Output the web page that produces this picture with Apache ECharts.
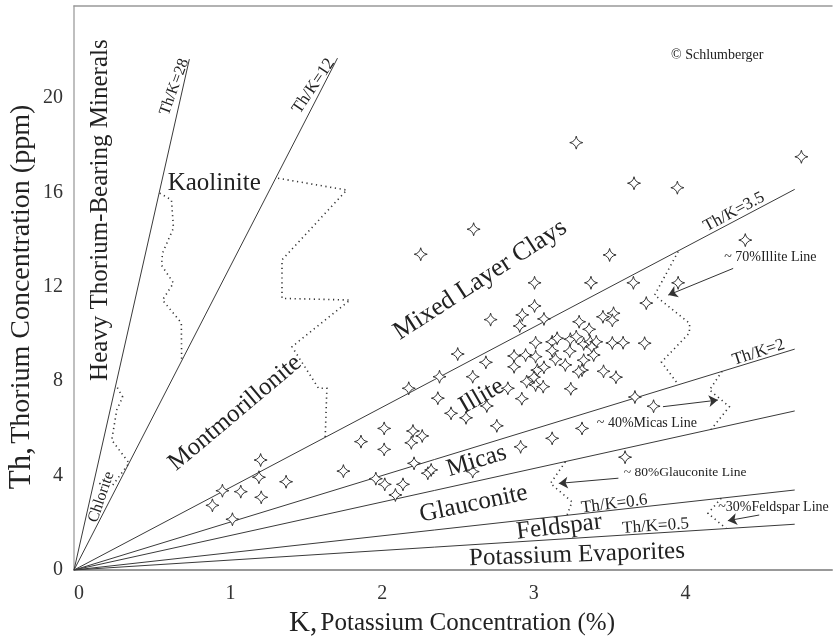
<!DOCTYPE html>
<html><head><meta charset="utf-8">
<script src="https://cdn.jsdelivr.net/npm/echarts@6/dist/echarts.min.js"></script>
<style>html,body{margin:0;padding:0;background:#fff}#c{width:835px;height:641px}</style>
</head><body><div id="c"></div>
<script>
// ---------------- DATA ----------------
const xTickLabels = [0, 1, 2, 3, 4];
const yTickLabels = [0, 4, 8, 12, 16, 20];

// straight Th/K ratio lines from the origin: end point of each line
const ratioLineNames = ['Th/K=28', 'Th/K=12', 'Th/K=3.5', 'Th/K=2', 'Micas/Glauconite', 'Th/K=0.6', 'Th/K=0.5'];
const ratioLineEndK  = [0.761, 1.738, 4.754, 4.754, 4.754, 4.754, 4.754];
const ratioLineEndTh = [21.65, 21.69, 16.13, 9.36, 6.74, 3.39, 1.94];

// sample points (K %, Th ppm)
const sampleK = [0.913,0.979,1.045,1.100,1.220,1.231,1.235,1.399,1.777,1.893,1.991,2.046,2.046,2.050,2.120,2.170,2.236,2.225,2.243,2.297,2.334,2.356,2.208,2.400,2.411,2.487,2.586,2.531,2.630,2.717,2.723,2.630,2.789,2.946,2.287,2.636,2.748,2.957,2.940,3.038,3.038,3.100,2.862,2.954,2.986,3.045,3.095,2.903,2.979,3.045,3.045,2.903,3.056,3.034,3.100,3.154,3.187,3.154,3.176,3.241,3.274,3.313,3.270,3.362,3.405,3.445,3.416,3.428,3.362,3.351,3.329,3.277,3.332,3.398,3.489,3.559,3.551,3.493,3.575,3.551,3.622,3.764,3.775,3.700,3.823,3.351,3.154,3.635,3.313,3.694,3.980,4.798,3.533,3.410,3.690,3.985,4.428];
const sampleTh = [2.74,3.36,2.15,3.32,3.93,4.66,3.08,3.74,4.19,5.44,3.87,6.00,5.11,3.63,3.18,3.63,5.89,5.39,4.52,5.68,4.10,4.24,7.70,7.28,8.19,6.64,6.45,9.15,8.19,8.80,6.95,4.17,6.11,5.22,13.38,14.44,10.61,10.81,10.34,11.19,12.17,10.64,7.70,7.26,7.98,7.84,7.77,9.07,9.11,9.04,9.63,8.61,8.47,8.17,8.59,9.67,9.82,9.29,8.93,8.69,9.78,9.89,9.27,9.58,9.67,9.67,9.45,9.11,8.89,8.47,8.40,7.68,10.52,10.20,10.73,10.88,10.58,8.42,8.17,9.62,9.63,9.61,11.31,7.33,6.94,6.00,5.58,4.78,18.11,16.39,16.20,17.51,13.35,12.17,12.17,12.17,13.98];

// dotted boundary lines (K, Th vertices)
const chloriteBoundary   = [[0.256,3.60],[0.363,4.53],[0.249,5.51],[0.282,6.78],[0.321,7.33],[0.276,7.84]];
const kaoliniteBoundary  = [[0.565,15.97],[0.643,15.68],[0.656,14.49],[0.584,13.43],[0.577,12.92],[0.656,12.16],[0.584,11.44],[0.708,10.47],[0.710,8.85]];
const montBoundary       = [[1.346,16.60],[1.799,16.10],[1.372,13.14],[1.372,11.51],[1.821,11.44],[1.438,9.46],[1.613,7.70],[1.668,7.70],[1.657,5.61]];
const illiteLine70       = [[3.985,13.49],[3.830,11.65],[4.061,10.45],[4.059,10.04],[3.875,8.81],[3.987,7.85]];
const micasLine40        = [[4.275,8.42],[4.192,7.63],[4.323,6.92],[4.203,5.96]];
const glauconiteLine80   = [[3.241,4.58],[3.143,3.67],[3.285,2.89],[3.252,2.32]];
const feldsparLine30     = [[4.269,3.04],[4.182,2.40],[4.302,1.76]];

// arrows (from, to)
const arrowIllite     = [[4.348,12.78],[3.920,11.65]];
const arrowMicas      = [[3.885,6.92],[4.247,7.20]];
const arrowGlauconite = [[3.591,3.89],[3.198,3.67]];
const arrowFeldspar   = [[4.520,2.33],[4.313,2.09]];

// ---------------- RENDER ----------------
const SERIF = "'Liberation Serif','DejaVu Serif',serif";
const chart = echarts.init(document.getElementById('c'), null, {renderer: 'canvas'});

const starPath = 'path://M10,0 Q11.5,8.5 20,10 Q11.5,11.5 10,20 Q8.5,11.5 0,10 Q8.5,8.5 10,0 Z';

const boundaries = [chloriteBoundary, kaoliniteBoundary, montBoundary, illiteLine70, micasLine40, glauconiteLine80, feldsparLine30];
const arrows = [arrowIllite, arrowMicas, arrowGlauconite, arrowFeldspar];

const hiddenLabel = {show: false};
chart.setOption({
  animation: false,
  backgroundColor: '#fff',
  grid: {left: 74, right: -1.5, top: 6, bottom: 71, show: false},
  xAxis: [{
    type: 'value', min: 0, max: 5, interval: 1, position: 'bottom',
    axisLine: {show: true, onZero: false, lineStyle: {color: '#999', width: 2}},
    axisTick: {show: false}, splitLine: {show: false},
    axisLabel: {
      fontFamily: SERIF, fontSize: 20, color: '#333', margin: 14, padding: [0, 0, 0, 10],
      formatter: v => xTickLabels.includes(v) ? String(v) : ''
    }
  }, {
    type: 'value', min: 0, max: 5, interval: 1, position: 'top',
    axisLine: {show: true, onZero: false, lineStyle: {color: '#999', width: 1.5}},
    axisTick: {show: false}, splitLine: {show: false}, axisLabel: hiddenLabel
  }],
  yAxis: {
    type: 'value', min: 0, max: 23.9, interval: 4,
    axisLine: {show: true, onZero: false, lineStyle: {color: '#aaa', width: 1.5}},
    axisTick: {show: false}, splitLine: {show: false},
    axisLabel: {
      fontFamily: SERIF, fontSize: 20, color: '#333', margin: 11, padding: [0, 0, 9, 0],
      formatter: v => yTickLabels.includes(v) ? String(v) : ''
    }
  },
  series: [
    {
      type: 'lines', coordinateSystem: 'cartesian2d', silent: true, z: 2,
      data: ratioLineEndK.map((k, i) => ({name: ratioLineNames[i], coords: [[0, 0], [k, ratioLineEndTh[i]]]})),
      lineStyle: {color: '#3a3a3a', width: 1, opacity: 1}, symbol: 'none'
    },
    {
      type: 'lines', coordinateSystem: 'cartesian2d', polyline: true, silent: true, z: 2,
      data: boundaries.map(b => ({coords: b})),
      lineStyle: {color: '#333', width: 1.6, type: [1.2, 3.6], opacity: 1}, symbol: 'none'
    },
    {
      type: 'lines', coordinateSystem: 'cartesian2d', silent: true, z: 3,
      data: arrows.map(a => ({coords: a})),
      lineStyle: {color: '#333', width: 1, opacity: 1},
      symbol: ['none', 'arrow'], symbolSize: [0, 9]
    },
    {
      type: 'scatter', z: 4,
      data: sampleK.map((k, i) => [k, sampleTh[i]]),
      symbol: starPath, symbolSize: 13,
      itemStyle: {color: '#fff', borderColor: '#333', borderWidth: 1, opacity: 1}
    }
  ]
});

// text annotations anchored in data coordinates
const notes = [
  {k: 0.177, th: 15.25, t: 'Heavy Thorium-Bearing Minerals', r: 90, s: 25},
  {k: 0.925, th: 16.40, t: 'Kaolinite', r: 0, s: 25},
  {k: 1.062, th: 6.65, t: 'Montmorillonite', r: 40, s: 25},
  {k: 2.680, th: 12.29, t: 'Mixed Layer Clays', r: 33, s: 26},
  {k: 2.689, th: 7.37, t: 'Illite', r: 30, s: 25},
  {k: 2.656, th: 4.62, t: 'Micas', r: 17, s: 25},
  {k: 2.636, th: 2.80, t: 'Glauconite', r: 12, s: 25},
  {k: 3.200, th: 1.82, t: 'Feldspar', r: 7, s: 25},
  {k: 3.318, th: 0.64, t: 'Potassium Evaporites', r: 2, s: 25},
  {k: 0.180, th: 3.09, t: 'Chlorite', r: 71, s: 16},
  {k: 0.662, th: 20.47, t: 'Th/K=28', r: 70, s: 16},
  {k: 1.580, th: 20.51, t: 'Th/K=12', r: 56, s: 17},
  {k: 4.354, th: 15.17, t: 'Th/K=3.5', r: 28, s: 17},
  {k: 4.515, th: 9.22, t: 'Th/K=2', r: 18, s: 17},
  {k: 3.564, th: 2.80, t: 'Th/K=0.6', r: 7, s: 17},
  {k: 3.836, th: 1.86, t: 'Th/K=0.5', r: 4, s: 17},
  {k: 4.243, th: 21.82, t: '\u00A9 Schlumberger', r: 0, s: 14},
  {k: 4.289, th: 13.26, t: '~ 70%Illite Line', r: 0, s: 14, a: 'left'},
  {k: 3.449, th: 6.23, t: '~ 40%Micas Line', r: 0, s: 14, a: 'left'},
  {k: 3.626, th: 4.15, t: '~ 80%Glauconite Line', r: 0, s: 13.5, a: 'left'},
  {k: 4.249, th: 2.67, t: '~30%Feldspar Line', r: 0, s: 14, a: 'left'}
];

const graphics = notes.map(n => {
  const p = chart.convertToPixel({gridIndex: 0}, [n.k, n.th]);
  return {
    type: 'text', x: p[0], y: p[1], rotation: n.r * Math.PI / 180, silent: true, z: 10,
    style: {text: n.t, fontFamily: SERIF, fontSize: n.s, fill: '#222',
            align: n.a || 'center', verticalAlign: 'middle'}
  };
});

graphics.push({
  type: 'text', x: 452, y: 623, silent: true, z: 10,
  style: {
    text: '{a|K,} {b|Potassium Concentration (%)}', align: 'center', verticalAlign: 'middle',
    rich: {a: {fontFamily: SERIF, fontSize: 29, fill: '#222', lineHeight: 32},
           b: {fontFamily: SERIF, fontSize: 25, fill: '#222', lineHeight: 32}}
  }
});
graphics.push({
  type: 'text', x: 22, y: 297, rotation: Math.PI / 2, silent: true, z: 10,
  style: {
    text: '{a|Th,} {b|Thorium Concentration (ppm)}', align: 'center', verticalAlign: 'middle',
    rich: {a: {fontFamily: SERIF, fontSize: 31, fill: '#222', lineHeight: 34},
           b: {fontFamily: SERIF, fontSize: 28, fill: '#222', lineHeight: 34}}
  }
});

chart.setOption({graphic: graphics});
</script></body></html>
